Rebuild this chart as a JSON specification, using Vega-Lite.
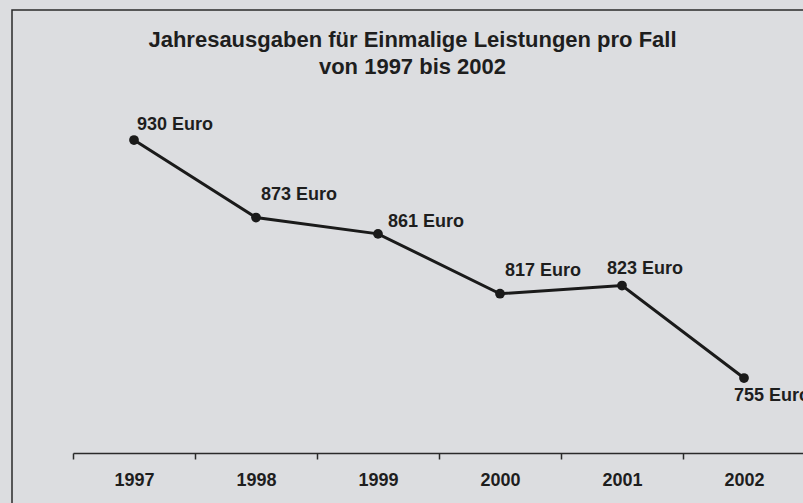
{
  "$schema": "https://vega.github.io/schema/vega-lite/v6.json",
  "autosize": {"type": "none"},
  "padding": {"left": 12, "top": 10, "right": 0, "bottom": 0},
  "width": 795,
  "height": 497,
  "background": "#dcdde0",
  "config": {
    "view": {"fill": "#dcdde0", "stroke": "#2a2a2a", "strokeWidth": 1.5},
    "font": "Liberation Sans"
  },
  "title": {
    "text": ["Jahresausgaben für Einmalige Leistungen pro Fall", "von 1997 bis 2002"],
    "orient": "top",
    "anchor": "middle",
    "frame": "group",
    "baseline": "top",
    "offset": -69,
    "dx": 3,
    "font": "Liberation Sans",
    "fontSize": 22,
    "fontWeight": "bold",
    "color": "#1e1e1e",
    "lineHeight": 27
  },
  "data": {
    "values": [
      {"year": "1997", "value": 930, "label": "930 Euro"},
      {"year": "1998", "value": 873, "label": "873 Euro"},
      {"year": "1999", "value": 861, "label": "861 Euro"},
      {"year": "2000", "value": 817, "label": "817 Euro"},
      {"year": "2001", "value": 823, "label": "823 Euro"},
      {"year": "2002", "value": 755, "label": "755 Euro"}
    ]
  },
  "encoding": {
    "x": {
      "field": "year",
      "type": "ordinal",
      "scale": {"type": "band", "range": [61, 793], "paddingInner": 0, "paddingOuter": 0},
      "axis": {
        "title": null,
        "labelAngle": 0,
        "offset": -54,
        "tickBand": "extent",
        "domainColor": "#2a2a2a",
        "domainWidth": 1.5,
        "tickColor": "#2a2a2a",
        "tickWidth": 1.5,
        "tickSize": 6,
        "labelPadding": 12,
        "labelFont": "Liberation Sans",
        "labelFontWeight": "bold",
        "labelFontSize": 18,
        "labelColor": "#1e1e1e",
        "grid": false
      }
    },
    "y": {
      "field": "value",
      "type": "quantitative",
      "scale": {"domain": [660.2, 1025.6], "zero": false, "nice": false},
      "axis": null
    }
  },
  "layer": [
    {"mark": {"type": "line", "color": "#1a1a1a", "strokeWidth": 3}},
    {"mark": {"type": "point", "filled": true, "color": "#1a1a1a", "size": 95, "opacity": 1}},
    {
      "transform": [{"filter": "datum.year == '1997'"}],
      "mark": {"type": "text", "align": "left", "baseline": "middle", "dx": 3, "dy": -15, "font": "Liberation Sans", "fontWeight": "bold", "fontSize": 18, "color": "#1e1e1e"},
      "encoding": {"text": {"field": "label"}}
    },
    {
      "transform": [{"filter": "datum.year == '1998' || datum.year == '2000'"}],
      "mark": {"type": "text", "align": "left", "baseline": "middle", "dx": 5, "dy": -23, "font": "Liberation Sans", "fontWeight": "bold", "fontSize": 18, "color": "#1e1e1e"},
      "encoding": {"text": {"field": "label"}}
    },
    {
      "transform": [{"filter": "datum.year == '1999'"}],
      "mark": {"type": "text", "align": "left", "baseline": "middle", "dx": 10, "dy": -12, "font": "Liberation Sans", "fontWeight": "bold", "fontSize": 18, "color": "#1e1e1e"},
      "encoding": {"text": {"field": "label"}}
    },
    {
      "transform": [{"filter": "datum.year == '2001'"}],
      "mark": {"type": "text", "align": "left", "baseline": "middle", "dx": -15, "dy": -17, "font": "Liberation Sans", "fontWeight": "bold", "fontSize": 18, "color": "#1e1e1e"},
      "encoding": {"text": {"field": "label"}}
    },
    {
      "transform": [{"filter": "datum.year == '2002'"}],
      "mark": {"type": "text", "align": "left", "baseline": "middle", "dx": -10, "dy": 18, "font": "Liberation Sans", "fontWeight": "bold", "fontSize": 18, "color": "#1e1e1e"},
      "encoding": {"text": {"field": "label"}}
    }
  ]
}
